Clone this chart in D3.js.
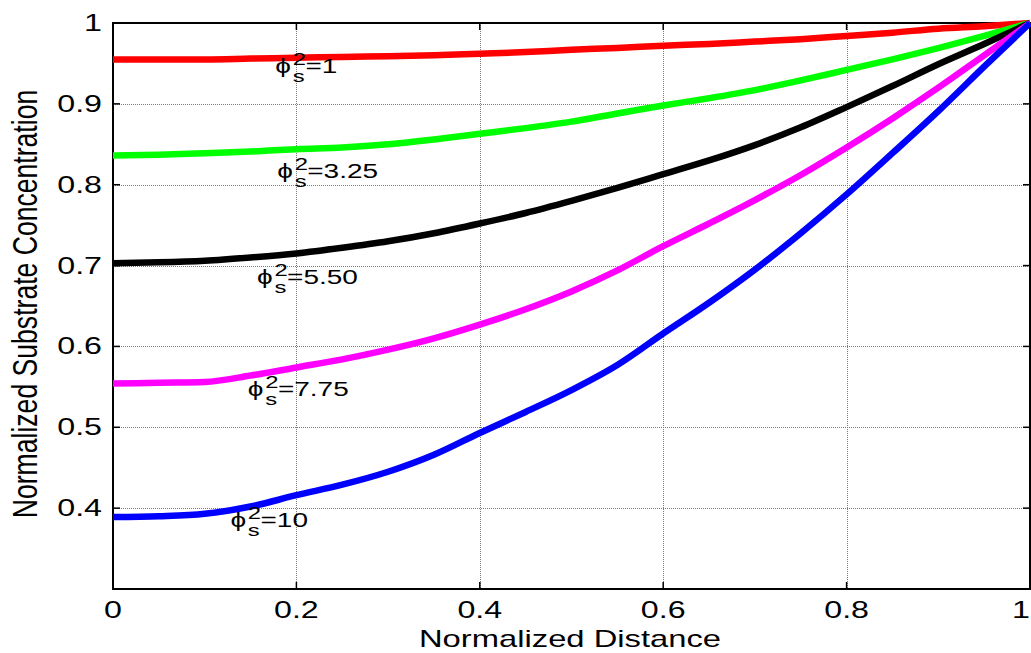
<!DOCTYPE html>
<html>
<head>
<meta charset="utf-8">
<script src="https://cdn.jsdelivr.net/npm/d3@7"></script>
<style>
  html, body { margin: 0; padding: 0; background: #fff; }
  svg text { font-family: "Liberation Sans", Arial, sans-serif; fill: #000; }
</style>
</head>
<body>
<div id="chart"></div>
<script>
(function() {
    // normalized distance samples
    const xs = [0, 0.05, 0.1, 0.15, 0.2, 0.25, 0.3, 0.35, 0.4, 0.45, 0.5,
                0.55, 0.6, 0.65, 0.7, 0.75, 0.8, 0.85, 0.9, 0.95, 1.0];
    // normalized substrate concentration, one array per phi_s^2
    const phi1   = [0.955, 0.955, 0.955, 0.956, 0.957, 0.958, 0.959, 0.960, 0.962, 0.964, 0.967,
                    0.969, 0.972, 0.974, 0.977, 0.980, 0.984, 0.988, 0.993, 0.996, 1.0];
    const phi325 = [0.836, 0.837, 0.839, 0.841, 0.844, 0.846, 0.850, 0.856, 0.863, 0.870, 0.878,
                    0.888, 0.898, 0.907, 0.917, 0.929, 0.942, 0.955, 0.969, 0.984, 1.0];
    const phi550 = [0.703, 0.704, 0.706, 0.710, 0.715, 0.722, 0.730, 0.740, 0.752, 0.765, 0.780,
                    0.796, 0.813, 0.830, 0.849, 0.871, 0.896, 0.922, 0.949, 0.974, 1.0];
    const phi775 = [0.554, 0.555, 0.556, 0.564, 0.574, 0.584, 0.596, 0.610, 0.627, 0.646, 0.668,
                    0.694, 0.724, 0.752, 0.781, 0.812, 0.846, 0.882, 0.920, 0.960, 1.0];
    const phi10  = [0.389, 0.390, 0.393, 0.402, 0.416, 0.429, 0.445, 0.466, 0.493, 0.519, 0.546,
                    0.577, 0.616, 0.654, 0.695, 0.740, 0.788, 0.839, 0.891, 0.946, 1.0];
    const seriesNames = ['1', '3.25', '5.50', '7.75', '10'];
    const xTicks = [0, 0.2, 0.4, 0.6, 0.8, 1];
    const yTicks = [0.4, 0.5, 0.6, 0.7, 0.8, 0.9, 1];
    // where each curve label sits (data units: x, y of the phi baseline)
    const labelAt = [[0.177, 0.938], [0.179, 0.808], [0.157, 0.677], [0.147, 0.539], [0.128, 0.377]];

    const series = [phi1, phi325, phi550, phi775, phi10];
    const colors = ['#ff0000', '#00ff00', '#000000', '#ff00ff', '#0000ff'];

    const W = 1031, H = 653;
    const margin = { top: 23, right: 1, bottom: 64, left: 113 };
    const stretch = 1.4;   // the original figure is widened horizontally

    const svg = d3.select('#chart').append('svg').attr('width', W).attr('height', H);
    svg.append('rect').attr('width', W).attr('height', H).attr('fill', '#fff');

    const x = d3.scaleLinear().domain([0, 1]).range([margin.left, W - margin.right]);
    const y = d3.scaleLinear().domain([0.3, 1]).range([H - margin.bottom, margin.top]);

    // grid
    const grid = svg.append('g').attr('stroke', '#7a7a7a').attr('stroke-width', 1).attr('stroke-dasharray', '1,1');
    grid.selectAll('line.gx').data(xTicks.filter(d => d > 0 && d < 1)).enter().append('line')
        .attr('x1', d => Math.round(x(d)) + 0.5).attr('x2', d => Math.round(x(d)) + 0.5)
        .attr('y1', y(1)).attr('y2', y(0.3));
    grid.selectAll('line.gy').data(yTicks.filter(d => d < 1)).enter().append('line')
        .attr('y1', d => Math.round(y(d)) + 0.5).attr('y2', d => Math.round(y(d)) + 0.5)
        .attr('x1', x(0)).attr('x2', x(1));

    // axes box
    const ax = svg.append('g').attr('stroke', '#000').attr('fill', 'none');
    ax.append('rect').attr('x', x(0)).attr('y', y(1)).attr('width', x(1) - x(0)).attr('height', y(0.3) - y(1))
        .attr('stroke-width', 2);
    xTicks.forEach(t => {
        ax.append('line').attr('x1', x(t)).attr('x2', x(t)).attr('y1', y(0.3)).attr('y2', y(0.3) - 7).attr('stroke-width', 1.5);
        ax.append('line').attr('x1', x(t)).attr('x2', x(t)).attr('y1', y(1)).attr('y2', y(1) + 7).attr('stroke-width', 1.5);
    });
    d3.range(0.3, 1.0001, 0.1).forEach(t => {
        ax.append('line').attr('x1', x(0)).attr('x2', x(0) + 7).attr('y1', y(t)).attr('y2', y(t)).attr('stroke-width', 1.5);
        ax.append('line').attr('x1', x(1)).attr('x2', x(1) - 7).attr('y1', y(t)).attr('y2', y(t)).attr('stroke-width', 1.5);
    });

    function wideText(px, py, str, size, anchor) {
        return svg.append('text')
            .attr('transform', `translate(${px},${py}) scale(${stretch},1)`)
            .attr('text-anchor', anchor).style('font-size', size + 'px').text(str);
    }

    // tick labels (last one pulled inside the page edge)
    xTicks.forEach(t => {
        if (t === 1) wideText(W - 1, 618, d3.format('~g')(t), 23, 'end');
        else wideText(x(t), 618, d3.format('~g')(t), 23, 'middle');
    });
    yTicks.forEach(t => wideText(102, y(t) + 8, d3.format('~g')(t), 23, 'end'));

    // axis titles
    wideText(570, 647, 'Normalized Distance', 23.4, 'middle');
    svg.append('text')
        .attr('transform', `translate(37,304) scale(1.3,1) rotate(-90)`)
        .attr('text-anchor', 'middle').style('font-size', '26.6px')
        .text('Normalized Substrate Concentration');

    // curves
    const line = d3.line().x((d, i) => x(xs[i])).y(d => y(d)).curve(d3.curveMonotoneX);
    svg.append('g').selectAll('path').data(series).enter().append('path')
        .attr('d', d => line(d)).attr('fill', 'none')
        .attr('stroke', (d, i) => colors[i]).attr('stroke-width', 6.5)
        .attr('stroke-linejoin', 'round');

    // curve labels: phi_s^2 = value
    seriesNames.forEach((name, i) => {
        const g = svg.append('g')
            .attr('transform', `translate(${x(labelAt[i][0])},${y(labelAt[i][1])}) scale(${stretch},1)`);
        g.append('text').attr('x', 0).attr('y', 0).style('font-size', '20px').text('\u03D5');
        g.append('text').attr('x', 12.5).attr('y', -8).style('font-size', '17px').text('2');
        g.append('text').attr('x', 12.5).attr('y', 9).style('font-size', '17px').text('s');
        g.append('text').attr('x', 21.5).attr('y', 0).style('font-size', '20px').text('=' + name);
    });
})();
</script>
</body>
</html>
